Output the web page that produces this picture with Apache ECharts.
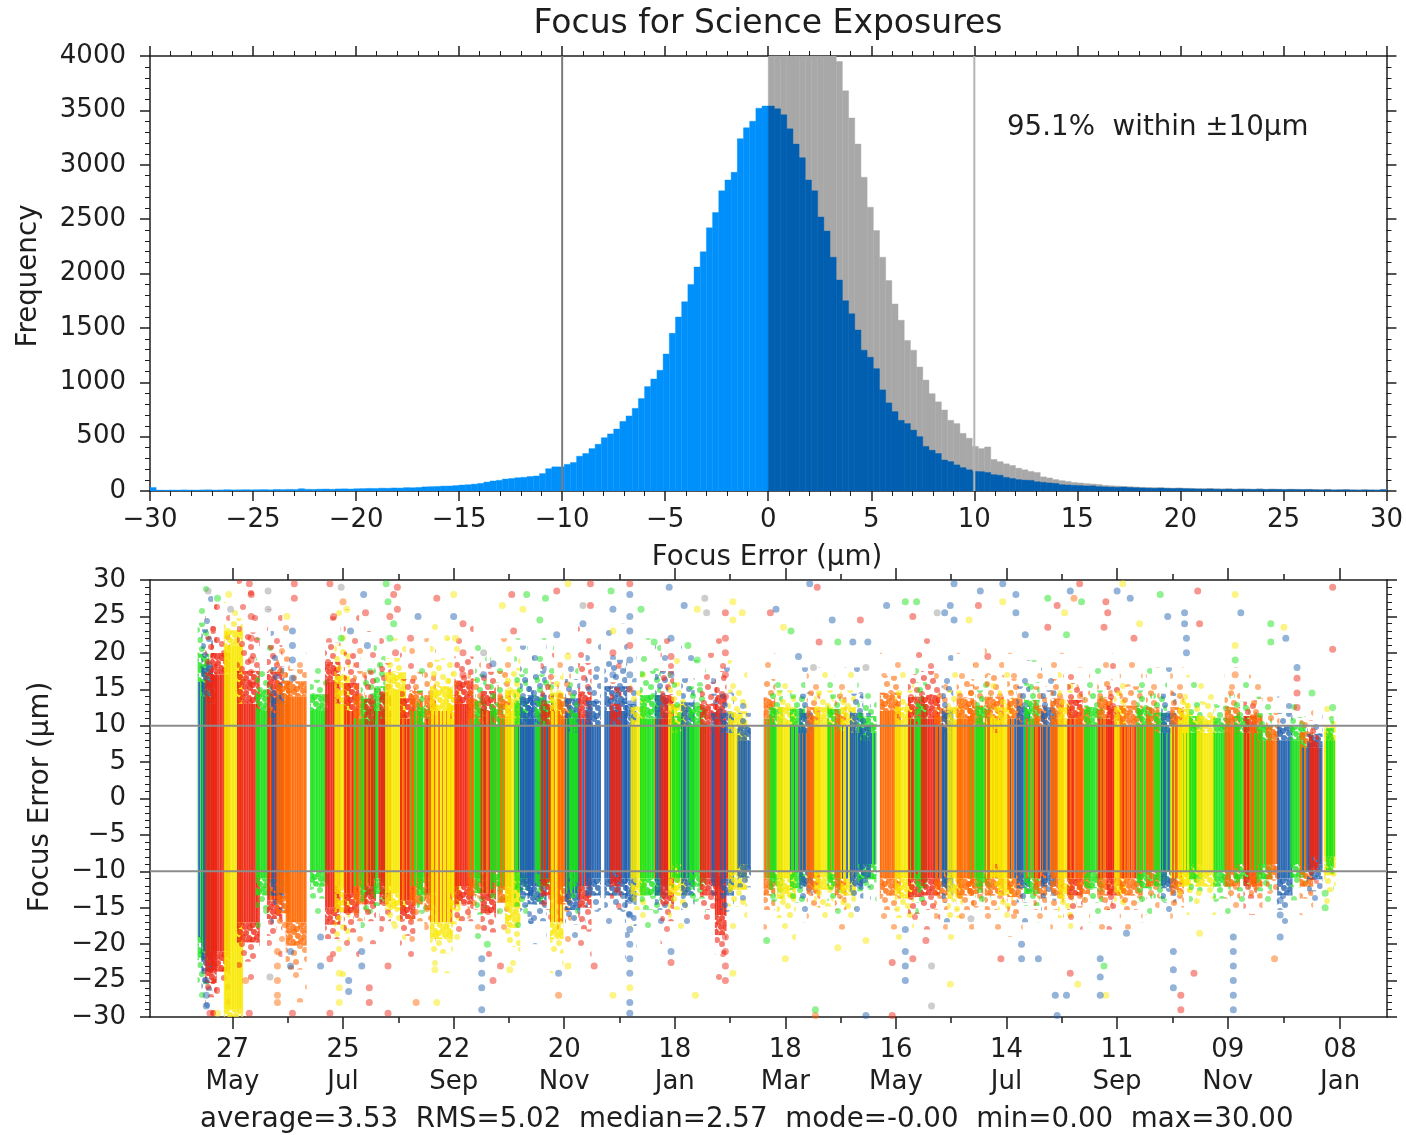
<!DOCTYPE html>
<html>
<head>
<meta charset="utf-8">
<title>Focus for Science Exposures</title>
<script src="https://cdn.jsdelivr.net/npm/echarts@6/dist/echarts.min.js"></script>
<style>
  html, body { margin: 0; padding: 0; background: #ffffff; }
  #chart { width: 1406px; height: 1135px; }
</style>
</head>
<body>
<div id="chart"></div>
<script>
// ---------------------------------------------------------------
// Histogram of focus error, 0.3 µm bins over [-30, 30]
// ---------------------------------------------------------------
const BIN_START = -30;
const BIN_WIDTH = 0.3;

// signed focus error, bins from -30.0 up to 0.0
const negativeCounts = [
  32, 8, 7, 9, 8, 10, 9, 8, 10, 11, 9, 10, 12, 10, 11, 12, 11,
  12, 13, 11, 14, 13, 15, 14, 21, 16, 15, 17, 18, 16, 19, 20, 18, 21,
  22, 24, 23, 26, 25, 28, 27, 31, 30, 33,
  38, 40, 42, 45, 46, 50,
  55, 58, 63, 70, 82, 92, 98, 110, 115, 122,
  126, 133, 138, 160, 205, 222, 222, 245, 262, 320,
  345, 390, 430, 490, 525, 570, 640, 690, 760, 850,
  960, 1030, 1110, 1260, 1450, 1600, 1740, 1900, 2060, 2200,
  2420, 2560, 2760, 2860, 2930, 3240, 3340, 3400, 3520, 3540
];

// signed focus error, bins from 0.0 up to 30.0
const positiveCounts = [
  3540, 3515, 3460, 3330, 3190, 3065, 2860, 2760, 2520, 2390,
  2150, 1940, 1750, 1630, 1480, 1295, 1230, 1125, 930, 810,
  730, 650, 620, 560, 500, 410, 375, 345, 285, 270,
  240, 215, 195, 180, 178, 170, 150, 145, 125, 115,
  105, 100, 98, 85, 80, 74, 70, 58, 55, 52,
  50, 46, 47, 40, 38, 36, 34, 37, 32, 30,
  28, 26, 25, 27, 24, 22, 24, 21, 20, 18,
  17, 19, 16, 15, 17, 14, 16, 15, 14, 16,
  13, 15, 14, 12, 14, 13, 12, 13, 11, 10,
  12, 9, 10, 11, 9, 8, 10, 9, 8, 12
];

// absolute focus error, bins from 0.0 up to 30.0
const absoluteCounts = [
  7080, 6995, 6820, 6580, 6240, 5965, 5690, 5450, 5030, 4720,
  4240, 3950, 3680, 3430, 3190, 2885, 2610, 2395, 2150, 1935,
  1720, 1570, 1385, 1295, 1140, 1020, 895, 820, 745, 650,
  620, 530, 485, 410, 390, 405, 290, 270, 250, 235,
  210, 195, 180, 170, 130, 120, 105, 95, 88, 78,
  74, 68, 64, 60, 52, 48, 45, 42, 40, 37,
  34, 32, 30, 31, 28, 27, 28, 25, 24, 23,
  22, 23, 21, 20, 21, 19, 20, 19, 18, 20,
  17, 18, 17, 16, 17, 16, 15, 16, 14, 13,
  15, 12, 13, 14, 12, 11, 12, 11, 10, 14
];

const toleranceLimits = [-10, 10];
const withinText = '95.1%  within \u00b110\u03bcm';
const statsText = 'average=3.53  RMS=5.02  median=2.57  mode=-0.00  min=0.00  max=30.00';

// ---------------------------------------------------------------
// Focus error per exposure against date.
// x values are days after 2017-05-27.
// ---------------------------------------------------------------
const DAY0 = Date.UTC(2017, 4, 27);
const DAY_MS = 86400000;
const dayRange = [-44, 616];
const dateTicks = ['2017-05-27', '2017-07-25', '2017-09-22', '2017-11-20', '2018-01-18',
  '2018-03-18', '2018-05-16', '2018-07-14', '2018-09-11', '2018-11-09', '2019-01-08'];
const MONTHS = ['Jan', 'Feb', 'Mar', 'Apr', 'May', 'Jun', 'Jul', 'Aug', 'Sep', 'Oct', 'Nov', 'Dec'];

const filterColors = {
  R: [238, 36, 18],
  O: [255, 104, 0],
  Y: [248, 232, 0],
  G: [24, 226, 24],
  B: [32, 96, 176],
  K: [150, 150, 150]
};

// observing runs: first day, last day, main filter, dense low, dense high,
// sparse low, sparse high, second filter taken in the same run ('' if none)
const nightBands = [
  [-17, -14, 'G', -20, 17, -30, 30, 'B'],
  [-15, -12, 'B', -22, 15, -30, 30, 'G'],
  [-13, -10, 'R', -24, 14, -30, 29, ''],
  [-10, -3, 'R', -22, 18, -30, 27, ''],
  [-3, 4, 'Y', -30, 22, -30, 27, ''],
  [4, 13, 'R', -18, 14, -26, 30, ''],
  [14, 20, 'G', -12, 13, -18, 22, ''],
  [20, 25, 'R', -15, 15, -22, 26, 'O'],
  [22, 26, 'B', -12, 12, -18, 23, 'R'],
  [25, 29, 'O', -14, 14, -22, 24, ''],
  [30, 38, 'O', -18, 15, -28, 20, ''],
  [43, 50, 'G', -11, 13, -16, 19, ''],
  [51, 56, 'R', -16, 17, -22, 25, ''],
  [56, 61, 'Y', -13, 14, -25, 27, ''],
  [61, 66, 'R', -14, 13, -22, 26, 'O'],
  [66, 70, 'O', -13, 12, -20, 22, 'G'],
  [70, 75, 'G', -12, 12, -18, 20, ''],
  [72, 75, 'R', -13, 11, -20, 23, 'O'],
  [77, 80, 'G', -12, 13, -17, 24, 'R'],
  [80, 83, 'R', -13, 12, -20, 24, ''],
  [83, 91, 'Y', -14, 16, -20, 22, ''],
  [91, 96, 'R', -15, 12, -22, 20, 'O'],
  [96, 100, 'O', -13, 13, -20, 21, 'G'],
  [100, 104, 'G', -12, 11, -18, 18, ''],
  [104, 107, 'O', -14, 12, -20, 22, 'R'],
  [107, 116, 'Y', -18, 13, -24, 24, 'O'],
  [116, 120, 'Y', -14, 12, -20, 22, ''],
  [120, 127, 'R', -13, 14, -20, 24, ''],
  [127, 131, 'O', -12, 12, -18, 20, 'G'],
  [131, 134, 'G', -11, 11, -20, 22, ''],
  [134, 139, 'R', -14, 13, -22, 21, 'O'],
  [139, 143, 'G', -11, 11, -17, 20, ''],
  [143, 147, 'O', -13, 12, -19, 22, 'G'],
  [147, 152, 'Y', -16, 13, -24, 22, ''],
  [152, 156, 'G', -11, 11, -18, 22, 'B'],
  [155, 159, 'B', -12, 12, -18, 21, ''],
  [159, 166, 'B', -13, 12, -20, 22, ''],
  [163, 170, 'G', -11, 11, -16, 22, ''],
  [166, 170, 'R', -12, 11, -18, 20, 'B'],
  [171, 175, 'Y', -18, 13, -24, 20, 'O'],
  [175, 179, 'O', -13, 12, -20, 20, ''],
  [179, 184, 'B', -14, 12, -20, 20, 'G'],
  [181, 183, 'G', -11, 10, -16, 18, ''],
  [186, 190, 'R', -13, 12, -22, 24, 'B'],
  [190, 195, 'B', -12, 11, -18, 22, ''],
  [200, 209, 'B', -12, 13, -18, 24, ''],
  [203, 206, 'R', -11, 11, -16, 20, ''],
  [211, 214, 'B', -12, 11, -22, 20, ''],
  [214, 219, 'Y', -12, 11, -18, 18, ''],
  [219, 227, 'G', -12, 12, -18, 22, ''],
  [227, 231, 'B', -12, 12, -18, 22, 'R'],
  [230, 234, 'R', -13, 12, -20, 22, ''],
  [234, 241, 'Y', -12, 11, -18, 20, 'G'],
  [236, 239, 'G', -10, 10, -14, 16, ''],
  [241, 245, 'B', -12, 11, -18, 21, 'G'],
  [245, 251, 'G', -11, 11, -16, 19, ''],
  [251, 257, 'R', -12, 11, -18, 20, ''],
  [257, 259, 'B', -11, 10, -16, 18, ''],
  [259, 262, 'R', -17, 12, -25, 22, ''],
  [262, 266, 'B', -12, 10, -18, 18, 'R'],
  [266, 273, 'Y', -11, 10, -18, 19, ''],
  [271, 275, 'B', -10, 9, -14, 14, ''],
  [285, 288, 'O', -12, 12, -18, 20, 'G'],
  [288, 292, 'G', -11, 11, -16, 18, ''],
  [292, 299, 'Y', -12, 11, -20, 18, ''],
  [299, 304, 'G', -11, 11, -17, 17, 'B'],
  [304, 308, 'B', -11, 10, -16, 18, 'O'],
  [308, 312, 'O', -12, 11, -17, 18, ''],
  [312, 319, 'Y', -11, 11, -18, 18, ''],
  [319, 323, 'G', -11, 11, -16, 17, 'O'],
  [323, 326, 'O', -12, 10, -18, 18, ''],
  [326, 331, 'Y', -12, 11, -18, 18, 'B'],
  [331, 335, 'B', -11, 10, -16, 18, ''],
  [335, 342, 'G', -10, 10, -15, 16, 'B'],
  [336, 339, 'B', -10, 9, -14, 14, ''],
  [347, 355, 'O', -12, 13, -18, 20, ''],
  [355, 362, 'Y', -12, 11, -20, 18, ''],
  [362, 366, 'R', -12, 12, -19, 21, 'G'],
  [366, 369, 'G', -11, 11, -17, 20, ''],
  [369, 376, 'R', -12, 12, -18, 22, ''],
  [376, 380, 'O', -12, 11, -18, 18, 'B'],
  [380, 383, 'B', -11, 10, -17, 20, ''],
  [383, 388, 'Y', -12, 11, -20, 18, ''],
  [388, 394, 'O', -12, 12, -18, 20, ''],
  [394, 399, 'O', -12, 11, -17, 19, 'G'],
  [398, 403, 'G', -11, 11, -16, 18, ''],
  [403, 410, 'O', -12, 12, -18, 21, 'Y'],
  [406, 408, 'Y', -10, 10, -14, 16, ''],
  [410, 415, 'Y', -12, 11, -18, 18, ''],
  [415, 420, 'O', -12, 12, -19, 20, 'B'],
  [420, 424, 'B', -11, 11, -17, 19, ''],
  [424, 429, 'G', -12, 12, -17, 19, 'O'],
  [429, 433, 'O', -12, 11, -18, 19, 'R'],
  [433, 438, 'B', -11, 11, -16, 18, 'O'],
  [438, 442, 'O', -12, 12, -18, 20, ''],
  [442, 447, 'Y', -12, 11, -20, 18, ''],
  [447, 452, 'R', -12, 12, -18, 19, 'O'],
  [452, 456, 'O', -12, 11, -17, 18, ''],
  [456, 463, 'G', -11, 11, -17, 18, ''],
  [463, 468, 'O', -12, 12, -18, 20, 'R'],
  [468, 472, 'R', -12, 11, -18, 19, ''],
  [472, 475, 'Y', -12, 11, -17, 18, ''],
  [475, 484, 'O', -12, 11, -18, 19, 'R'],
  [484, 489, 'G', -11, 11, -17, 18, 'O'],
  [489, 493, 'O', -11, 11, -16, 18, ''],
  [493, 497, 'G', -11, 10, -16, 18, ''],
  [497, 502, 'B', -11, 10, -17, 18, 'G'],
  [502, 506, 'O', -12, 11, -17, 18, 'Y'],
  [506, 509, 'Y', -11, 11, -16, 17, ''],
  [509, 513, 'Y', -11, 10, -15, 16, 'G'],
  [512, 516, 'G', -10, 10, -15, 16, ''],
  [516, 523, 'Y', -11, 10, -16, 16, ''],
  [525, 531, 'G', -11, 10, -16, 15, ''],
  [531, 536, 'O', -11, 11, -16, 18, ''],
  [536, 541, 'G', -10, 10, -15, 16, ''],
  [541, 545, 'R', -11, 10, -16, 16, 'O'],
  [544, 548, 'O', -11, 10, -16, 17, 'G'],
  [548, 553, 'G', -10, 9, -15, 14, 'O'],
  [553, 557, 'O', -10, 9, -15, 14, ''],
  [559, 564, 'B', -12, 9, -18, 14, ''],
  [566, 571, 'G', -10, 9, -14, 13, ''],
  [571, 575, 'O', -11, 8, -16, 13, 'B'],
  [575, 580, 'B', -10, 8, -15, 12, 'R'],
  [576, 578, 'R', -9, 8, -13, 11, ''],
  [584, 587, 'Y', -9, 9, -16, 13, 'G'],
  [585, 586, 'G', -9, 9, -13, 12, '']
];

// isolated exposures outside the dense runs: day, focus error, filter
const strayPoints = [
  [-13, 28.5, 'K'], [-8, 27.5, 'G'], [-1, 26, 'K'], [-2, 28, 'Y'],
  [10, 16, 'R'], [10, 19, 'R'], [10, 22, 'R'], [10, 25, 'R'], [10, 28, 'R'], [9, 29.5, 'R'],
  [19, 28.5, 'K'], [19, 26, 'K'], [29, 25, 'Y'], [33, 29.5, 'R'], [33, 27.5, 'R'],
  [32, 16.5, 'B'], [32, 19, 'B'], [32, 21, 'B'], [32, 23, 'B'],
  [52, 29.5, 'R'], [54, 25, 'R'], [58, 29, 'K'], [58, 22, 'G'], [59, 27, 'O'], [61, 26, 'Y'], [63, 23, 'B'],
  [70, 28, 'B'], [71, 25.5, 'R'], [72, 21, 'B'],
  [82, 29.5, 'G'], [83, 27, 'G'], [84, 25, 'R'], [84, 22, 'G'], [86, 28, 'R'], [86, 24, 'G'],
  [87, 20, 'R'], [88, 26, 'R'], [88, 29, 'R'],
  [99, 25, 'B'], [95, 22, 'R'], [109, 27.5, 'R'], [118, 28, 'Y'], [118, 25, 'B'], [119, 22, 'Y'],
  [134, 20, 'K'], [139, 18.5, 'B'],
  [123, 17, 'R'], [123, 20, 'R'], [123, 24, 'R'], [134, 17, 'B'], [144, 26.5, 'Y'], [149, 28, 'R'],
  [150, 23, 'R'], [157, 28, 'G'], [155, 26, 'Y'], [167, 27.5, 'G'], [164, 24.5, 'G'],
  [173, 28.5, 'R'], [173, 22.5, 'B'], [179, 29.5, 'Y'], [179, 19.5, 'Y'], [187, 26.5, 'K'],
  [191, 29.5, 'R'], [191, 26.5, 'R'], [187, 24, 'B'], [202, 28.5, 'G'],
  [203, 17, 'B'], [203, 20, 'R'], [203, 23, 'Y'], [203, 26, 'B'],
  [212, 13, 'B'], [212, 15, 'R'], [212, 17, 'B'], [212, 19, 'B'], [212, 21, 'R'], [212, 23, 'B'],
  [212, 25, 'B'], [212, 28, 'B'], [212, 29.5, 'R'],
  [218, 26, 'G'], [225, 21.5, 'G'], [233, 29, 'B'], [234, 17, 'B'], [234, 19.5, 'R'], [234, 22, 'B'],
  [241, 26.5, 'B'], [248, 26, 'Y'], [252, 27.5, 'K'], [253, 25.5, 'K'], [243, 21, 'G'], [248, 19, 'G'],
  [263, 25.5, 'R'], [263, 14, 'R'], [263, 17, 'R'], [263, 20, 'R'], [263, 22, 'R'],
  [267, 27, 'Y'], [267, 24.5, 'Y'], [272, 25.5, 'Y'],
  [287, 25.5, 'R'], [290, 26, 'B'], [298, 23, 'G'], [294, 23.5, 'Y'], [302, 19.5, 'B'],
  [308, 29.5, 'B'], [312, 29, 'R'], [313, 21.5, 'R'], [310, 18, 'K'], [320, 24.5, 'B'],
  [323, 21.5, 'G'], [331, 21.5, 'B'], [335, 24.5, 'R'], [339, 21.5, 'B'], [338, 18, 'K'],
  [349, 26.5, 'B'], [359, 27, 'G'], [365, 27, 'G'], [363, 25, 'R'], [376, 25.5, 'K'],
  [380, 25.5, 'B'], [385, 29.5, 'B'], [383, 26.5, 'B'], [385, 24.5, 'B'], [393, 24.5, 'Y'],
  [399, 28.5, 'B'], [398, 26.5, 'R'], [403, 19.5, 'R'], [411, 29.5, 'B'], [411, 27, 'Y'],
  [418, 28, 'B'], [418, 25.5, 'B'], [423, 22.5, 'B'], [435, 27.5, 'G'], [435, 23.5, 'R'],
  [440, 26.5, 'R'], [444, 25.5, 'Y'], [447, 28.5, 'B'], [449, 27.5, 'O'], [453, 27, 'G'],
  [452, 29.5, 'R'], [445, 22.5, 'G'], [466, 27, 'R'], [467, 25.5, 'R'], [465, 23.5, 'R'],
  [472, 28.5, 'B'], [475, 29.5, 'Y'], [479, 27.5, 'B'], [481, 22, 'R'], [484, 24, 'Y'],
  [495, 28, 'G'], [499, 25, 'B'], [508, 25.5, 'B'], [508, 24, 'B'], [515, 28.5, 'R'],
  [516, 24, 'R'], [509, 20, 'B'], [509, 22, 'B'], [535, 28, 'Y'], [538, 25.5, 'B'],
  [535, 17, 'O'], [535, 19, 'G'], [535, 21, 'Y'], [554, 24, 'G'], [554, 21.5, 'G'],
  [561, 23.5, 'Y'], [562, 22, 'B'], [568, 18, 'B'], [568, 12.5, 'R'], [568, 14.5, 'R'],
  [568, 16.5, 'R'], [587, 29, 'R'], [587, 20.5, 'R'], [587, 12.5, 'G'], [576, 14.5, 'G'],
  [-14, -25, 'B'], [-14, -27, 'B'], [-14, -28.5, 'B'], [-12, -29.5, 'R'], [-8, -29.5, 'Y'],
  [7, -25, 'O'], [9, -29.5, 'R'],
  [24, -21, 'O'], [24, -23, 'O'], [24, -25, 'O'], [24, -27, 'O'], [24, -28, 'O'],
  [20, -24.5, 'K'], [31, -21, 'B'], [31, -23, 'B'], [32, -29.5, 'R'],
  [47, -19, 'B'], [47, -23, 'B'], [52, -22, 'R'], [52, -29.5, 'R'],
  [57, -24, 'Y'], [57, -26, 'Y'], [57, -28, 'Y'], [62, -25, 'B'], [62, -26.5, 'B'],
  [69, -21, 'B'], [69, -23, 'B'], [73, -26, 'R'], [73, -28, 'R'], [83, -23, 'R'], [83, -29.5, 'R'],
  [98, -28, 'O'], [109, -28, 'Y'], [108, -23.5, 'Y'],
  [133, -22, 'B'], [133, -24, 'B'], [133, -26, 'B'], [133, -29, 'B'], [136, -20, 'G'],
  [139, -25, 'R'], [143, -23, 'R'], [148, -23.5, 'Y'],
  [174, -24, 'B'], [174, -27, 'O'], [179, -23, 'Y'], [193, -23, 'R'], [203, -27, 'Y'],
  [212, -14, 'B'], [212, -16, 'B'], [212, -18, 'B'], [212, -20, 'B'], [212, -22, 'B'],
  [212, -24, 'B'], [212, -26, 'Y'], [212, -28, 'B'], [212, -29.5, 'B'],
  [234, -21, 'B'], [234, -22.5, 'R'], [247, -27, 'Y'],
  [263, -19, 'R'], [263, -21, 'R'], [263, -23, 'R'], [263, -25, 'R'], [267, -24, 'Y'],
  [285, -19.5, 'G'], [295, -22, 'Y'], [311, -29, 'G'], [311, -29.8, 'O'], [323, -20.5, 'Y'],
  [338, -29.8, 'B'], [338, -19.5, 'Y'], [352, -29.8, 'R'], [352, -22.5, 'R'],
  [359, -18, 'B'], [359, -21, 'B'], [359, -23, 'B'], [359, -25, 'B'], [363, -22, 'R'],
  [370, -19.5, 'R'], [373, -23, 'K'], [373, -28.5, 'K'], [383, -25.5, 'Y'], [394, -16.5, 'K'],
  [410, -22, 'R'], [421, -20, 'B'], [421, -22, 'B'], [430, -22, 'B'], [439, -27, 'B'],
  [440, -29.8, 'B'], [445, -27, 'B'], [447, -24, 'R'], [451, -25.5, 'Y'],
  [463, -22, 'B'], [463, -24.5, 'B'], [463, -27, 'B'], [465, -23, 'G'], [466, -27, 'Y'],
  [477, -18.5, 'B'], [502, -21, 'B'], [502, -23.5, 'B'], [502, -26, 'B'],
  [506, -27, 'R'], [506, -29, 'R'], [513, -24, 'R'], [516, -18.5, 'Y'],
  [534, -19, 'B'], [534, -21, 'B'], [534, -23, 'B'], [534, -25, 'B'], [534, -27, 'B'], [534, -29, 'B'],
  [556, -22, 'O'], [559, -14, 'B'], [559, -16, 'B'], [559, -19, 'B'], [583, -13, 'G'], [583, -15, 'G']
];

// ---------------------------------------------------------------
const FONT = '"DejaVu Sans", "Liberation Sans", sans-serif';
const INK = '#1e1e1e';
const TEXT_SIZE = 27.7;
const FILTER_KEYS = Object.keys(filterColors);

function rgba(key, a) {
  const c = filterColors[key];
  return 'rgba(' + c[0] + ',' + c[1] + ',' + c[2] + ',' + a + ')';
}
function signed(v) {
  return v < 0 ? '\u2212' + Math.abs(v) : String(v);
}
function plain(v) {
  return String(v);
}
function dayOf(iso) {
  return Math.round((Date.parse(iso + 'T00:00:00Z') - DAY0) / DAY_MS);
}
function dateLabel(v) {
  const dt = new Date(DAY0 + Math.round(v) * DAY_MS);
  const dd = String(dt.getUTCDate()).padStart(2, '0');
  return dd + '\n' + MONTHS[dt.getUTCMonth()];
}

const majorDays = dateTicks.map(dayOf);
const minorDays = majorDays.slice(1).map((d, i) => (d + majorDays[i]) / 2);

function binRows(counts, start) {
  return counts.map((c, i) => [start + i * BIN_WIDTH, start + (i + 1) * BIN_WIDTH, c]);
}

// ---- marker textures for the exposure runs (r = 3 px round markers) ----
function canvasOf(w, h) {
  const cv = document.createElement('canvas');
  cv.width = w;
  cv.height = h;
  return cv;
}
function speckle(key, w, h, spots, alpha, shift) {
  const cv = canvasOf(w, h);
  const ctx = cv.getContext('2d');
  ctx.fillStyle = rgba(key, alpha);
  spots.forEach(s => {
    for (let ox = -w; ox <= w; ox += w) {
      for (let oy = -h; oy <= h; oy += h) {
        ctx.beginPath();
        ctx.arc((s[0] + shift) % w + ox, (s[1] + shift * 2) % h + oy, 3, 0, Math.PI * 2);
        ctx.fill();
      }
    }
  });
  return { image: cv, repeat: 'repeat' };
}
// column texture of a run: main filter with streaks of the second one
const STREAKS = [1, 1, 0, 1, 1, 1, 0, 0, 1, 1, 0, 1];
const STREAK_ALPHA = [0.95, 0.85, 0.9, 0.75, 0.95, 0.88, 0.8, 0.92, 0.78, 0.95, 0.85, 0.9];
function streaks(main, second) {
  const cv = canvasOf(STREAKS.length, 1);
  const ctx = cv.getContext('2d');
  STREAKS.forEach((s, i) => {
    const key = (s === 0 && second) ? second : main;
    ctx.fillStyle = rgba(key, STREAK_ALPHA[i]);
    ctx.fillRect(i, 0, 1, 1);
  });
  return { image: cv, repeat: 'repeat' };
}
const EDGE_SPOTS = [[2, 2], [8, 3], [5, 7], [11, 8], [1, 10], [7, 12], [12, 13]];
const DENSE_SPOTS = [[4, 3], [13, 6], [8, 12], [17, 15], [2, 19], [11, 22]];
const SPARSE_SPOTS = [[5, 5], [17, 17], [9, 31], [21, 42]];
const textures = {};
FILTER_KEYS.forEach((key, i) => {
  textures[key] = {
    edge: speckle(key, 14, 15, EDGE_SPOTS, 0.78, i * 2),
    dense: speckle(key, 20, 25, DENSE_SPOTS, 0.58, i * 3),
    sparse: speckle(key, 26, 48, SPARSE_SPOTS, 0.5, i * 5)
  };
});
const streakCache = {};
function coreFill(main, second) {
  const id = main + second;
  if (!streakCache[id]) streakCache[id] = streaks(main, second);
  return streakCache[id];
}

function barRenderer(fill) {
  return function (params, api) {
    const p0 = api.coord([api.value(0), api.value(2)]);
    const p1 = api.coord([api.value(1), 0]);
    return {
      type: 'rect',
      shape: { x: p0[0], y: p0[1], width: p1[0] - p0[0], height: p1[1] - p0[1] },
      style: { fill: fill, stroke: fill, lineWidth: 0.4 }
    };
  };
}

function renderBand(params, api) {
  const band = nightBands[params.dataIndex];
  const key = band[2];
  const tex = textures[key];
  const xa = api.coord([api.value(0), 0])[0] - 3;
  const xb = api.coord([api.value(1), 0])[0] + 3;
  const w = xb - xa;
  const lo = api.value(2), hi = api.value(3), tLo = api.value(4), tHi = api.value(5);
  const y = v => api.coord([0, v])[1];
  const slab = (a, b, fill) => ({
    type: 'rect',
    shape: { x: xa, y: y(b), width: w, height: y(a) - y(b) },
    style: { fill: fill }
  });
  // the solid column stops a little short of the dense limits; speckle fills the rest
  const cHi = hi - 1, cLo = lo + 1;
  const up1 = hi + (tHi - hi) * 0.22, up2 = hi + (tHi - hi) * 0.55;
  const dn1 = lo - (lo - tLo) * 0.22, dn2 = lo - (lo - tLo) * 0.55;
  return {
    type: 'group',
    children: [
      slab(up2, tHi, tex.sparse),
      slab(up1, up2, tex.dense),
      slab(cHi, up1, tex.edge),
      slab(dn1, cLo, tex.edge),
      slab(dn2, dn1, tex.dense),
      slab(tLo, dn2, tex.sparse),
      slab(cLo, cHi, coreFill(key, band[7]))
    ]
  };
}

function renderVLine(colors) {
  return function (params, api) {
    const a = api.coord([api.value(0), 0]);
    const b = api.coord([api.value(0), 4000]);
    return {
      type: 'line',
      shape: { x1: a[0], y1: a[1], x2: b[0], y2: b[1] },
      style: { stroke: colors[params.dataIndex], lineWidth: 2 }
    };
  };
}
function renderHLine(params, api) {
  const a = api.coord([dayRange[0], api.value(0)]);
  const b = api.coord([dayRange[1], api.value(0)]);
  return {
    type: 'line',
    shape: { x1: a[0], y1: a[1], x2: b[0], y2: b[1] },
    style: { stroke: '#8c8c8c', lineWidth: 2 }
  };
}

const tickStyle = { show: true, inside: false, length: 10, lineStyle: { color: INK, width: 1.5 } };
const minorStyle = { show: true, splitNumber: 5, length: 5, lineStyle: { color: INK, width: 1 } };
const lineStyle = { show: true, onZero: false, lineStyle: { color: INK, width: 1.5 } };
const noLine = { show: false, onZero: false };
const labelBase = { color: INK, fontSize: 26, fontFamily: FONT };

const strayByFilter = FILTER_KEYS.map(key => ({
  type: 'scatter',
  xAxisIndex: 2,
  yAxisIndex: 2,
  symbol: 'circle',
  symbolSize: 7,
  z: 4,
  itemStyle: { color: rgba(key, 0.6) },
  data: strayPoints.filter(p => p[2] === key).map(p => [p[0], p[1]])
}));

const option = {
  animation: false,
  backgroundColor: '#ffffff',
  grid: [
    { left: 150, right: 19, top: 56, height: 435 },
    { left: 150, right: 19, top: 580, height: 437 }
  ],
  xAxis: [
    {
      gridIndex: 0, type: 'value', position: 'bottom', min: -30, max: 30, interval: 5,
      axisLine: lineStyle, axisTick: tickStyle, minorTick: minorStyle, splitLine: { show: false },
      axisLabel: Object.assign({}, labelBase, { margin: 16, formatter: signed, showMinLabel: true, showMaxLabel: true })
    },
    {
      gridIndex: 0, type: 'value', position: 'top', min: -30, max: 30, interval: 5,
      axisLine: lineStyle, axisTick: tickStyle, minorTick: minorStyle, splitLine: { show: false },
      axisLabel: { show: false }
    },
    {
      gridIndex: 1, type: 'value', position: 'bottom', min: dayRange[0], max: dayRange[1],
      axisLine: lineStyle,
      axisTick: Object.assign({}, tickStyle, { length: 12, customValues: majorDays }),
      splitLine: { show: false },
      axisLabel: Object.assign({}, labelBase, {
        margin: 17, lineHeight: 32, customValues: majorDays, formatter: dateLabel
      })
    },
    {
      gridIndex: 1, type: 'value', position: 'bottom', min: dayRange[0], max: dayRange[1],
      axisLine: noLine,
      axisTick: Object.assign({}, tickStyle, { length: 6, customValues: minorDays }),
      splitLine: { show: false }, axisLabel: { show: false }
    },
    {
      gridIndex: 1, type: 'value', position: 'top', min: dayRange[0], max: dayRange[1],
      axisLine: lineStyle,
      axisTick: Object.assign({}, tickStyle, { length: 12, customValues: majorDays }),
      splitLine: { show: false }, axisLabel: { show: false }
    },
    {
      gridIndex: 1, type: 'value', position: 'top', min: dayRange[0], max: dayRange[1],
      axisLine: noLine,
      axisTick: Object.assign({}, tickStyle, { length: 6, customValues: minorDays }),
      splitLine: { show: false }, axisLabel: { show: false }
    }
  ],
  yAxis: [
    {
      gridIndex: 0, type: 'value', position: 'left', min: 0, max: 4000, interval: 500,
      axisLine: lineStyle, axisTick: tickStyle, minorTick: minorStyle, splitLine: { show: false },
      axisLabel: Object.assign({}, labelBase, { margin: 24, formatter: plain })
    },
    {
      gridIndex: 0, type: 'value', position: 'right', min: 0, max: 4000, interval: 500,
      axisLine: lineStyle, axisTick: tickStyle, minorTick: minorStyle, splitLine: { show: false },
      axisLabel: { show: false }
    },
    {
      gridIndex: 1, type: 'value', position: 'left', min: -30, max: 30, interval: 5,
      axisLine: lineStyle, axisTick: tickStyle, minorTick: minorStyle, splitLine: { show: false },
      axisLabel: Object.assign({}, labelBase, { margin: 24, formatter: signed })
    },
    {
      gridIndex: 1, type: 'value', position: 'right', min: -30, max: 30, interval: 5,
      axisLine: lineStyle, axisTick: tickStyle, minorTick: minorStyle, splitLine: { show: false },
      axisLabel: { show: false }
    }
  ],
  series: [
    {
      type: 'custom', name: '|focus error|', xAxisIndex: 0, yAxisIndex: 0, clip: true, z: 1,
      renderItem: barRenderer('#a8a8a8'),
      encode: { x: [0, 1], y: 2 },
      data: binRows(absoluteCounts, 0)
    },
    {
      type: 'custom', name: 'focus error < 0', xAxisIndex: 0, yAxisIndex: 0, clip: true, z: 2,
      renderItem: barRenderer('#0090fb'),
      encode: { x: [0, 1], y: 2 },
      data: binRows(negativeCounts, BIN_START)
    },
    {
      type: 'custom', name: 'focus error > 0', xAxisIndex: 0, yAxisIndex: 0, clip: true, z: 2,
      renderItem: barRenderer('#005fb0'),
      encode: { x: [0, 1], y: 2 },
      data: binRows(positiveCounts, 0)
    },
    {
      type: 'custom', xAxisIndex: 0, yAxisIndex: 0, z: 5, silent: true,
      renderItem: renderVLine(['#7c7c7c', '#b4b4b4']),
      encode: { x: 0 },
      data: toleranceLimits.map(v => [v])
    },
    {
      type: 'custom', name: 'runs', xAxisIndex: 2, yAxisIndex: 2, clip: true, z: 3,
      renderItem: renderBand,
      encode: { x: [0, 1], y: [2, 3, 4, 5] },
      data: nightBands.map(b => [b[0], b[1], b[3], b[4], b[5], b[6]])
    }
  ].concat(strayByFilter).concat([
    {
      type: 'custom', xAxisIndex: 2, yAxisIndex: 2, z: 6, silent: true,
      renderItem: renderHLine,
      encode: { y: 0 },
      data: toleranceLimits.map(v => [v])
    }
  ]),
  graphic: [
    {
      type: 'text', x: 768, y: 24,
      style: { text: 'Focus for Science Exposures', font: '33px ' + FONT, fill: INK, align: 'center', verticalAlign: 'middle' }
    },
    {
      type: 'text', x: 1007, y: 128,
      style: { text: withinText, font: TEXT_SIZE + 'px ' + FONT, fill: INK, align: 'left', verticalAlign: 'middle' }
    },
    {
      type: 'text', x: 29, y: 276, rotation: Math.PI / 2,
      style: { text: 'Frequency', font: TEXT_SIZE + 'px ' + FONT, fill: INK, align: 'center', verticalAlign: 'middle' }
    },
    {
      type: 'text', x: 767, y: 558,
      style: { text: 'Focus Error (\u03bcm)', font: TEXT_SIZE + 'px ' + FONT, fill: INK, align: 'center', verticalAlign: 'middle' }
    },
    {
      type: 'text', x: 41, y: 797, rotation: Math.PI / 2,
      style: { text: 'Focus Error (\u03bcm)', font: TEXT_SIZE + 'px ' + FONT, fill: INK, align: 'center', verticalAlign: 'middle' }
    },
    {
      type: 'text', x: 200, y: 1120,
      style: { text: statsText, font: TEXT_SIZE + 'px ' + FONT, fill: INK, align: 'left', verticalAlign: 'middle' }
    }
  ]
};

const chart = echarts.init(document.getElementById('chart'), null, { renderer: 'canvas' });
chart.setOption(option);
</script>
</body>
</html>
